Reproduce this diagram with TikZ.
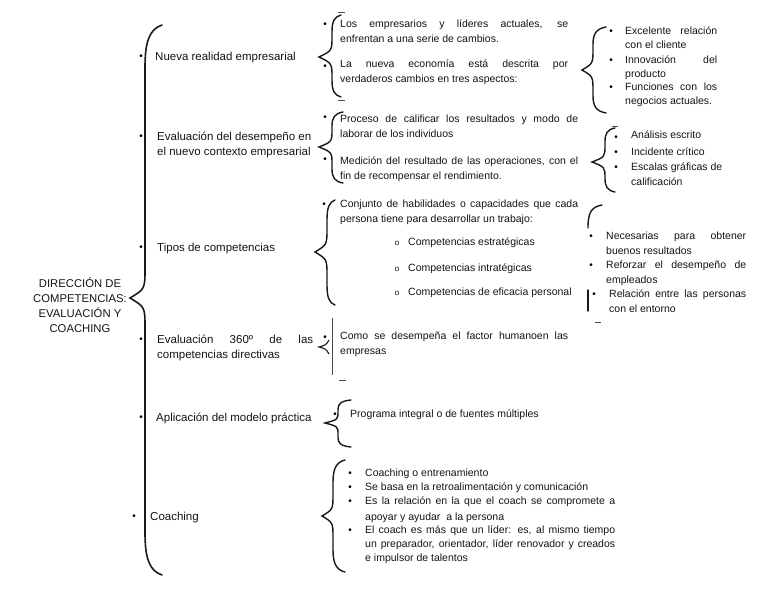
\documentclass[tikz,border=0pt]{standalone}
\usepackage{fontspec}
\setmainfont{Liberation Sans}
\newcommand{\jline}[2]{\makebox[#1][s]{#2}}
% llave: x extremo, x tramo, x punta, y arriba, y punta, y abajo
\newcommand{\llave}[7][]{%
  \pgfmathsetmacro{\llr}{min(2.5*(#2-#3),0.4*(#6-#5))}%
  \pgfmathsetmacro{\llt}{min(2*(#3-#4),0.5*(#6-#5))}%
  \draw[brazo,#1] (#2,#5) .. controls ({#3+0.25*(#2-#3)},{#5+0.1*\llr}) and (#3,{#5+0.4*\llr}) .. (#3,{#5+\llr})
    -- (#3,{#6-\llt}) .. controls (#3,{#6-0.3*\llt}) .. (#4,#6)
    .. controls (#3,{#6+0.3*\llt}) .. (#3,{#6+\llt})
    -- (#3,{#7-\llr}) .. controls (#3,{#7-0.4*\llr}) and ({#3+0.25*(#2-#3)},{#7-0.1*\llr}) .. (#2,#7);}

\begin{document}
\begin{tikzpicture}[x=1pt,y=-1pt,
    every node/.style={inner sep=0pt,text=black!92},
    titulo/.style={font=\fontsize{11.3}{15}\selectfont,align=center,anchor=north},
    tema/.style={font=\fontsize{11.5}{15}\selectfont,align=left,anchor=north west},
    idea/.style={font=\fontsize{10.5}{15}\selectfont,align=left,anchor=north west},
    punto/.style={font=\fontsize{10}{10}\selectfont,text=black},
    brazo/.style={line width=1.4pt,black!90,line cap=round},
    marca/.style={line width=0.7pt,black!70}]
  \useasboundingbox (0,0) rectangle (768,594);

  % titulo
  \node[titulo] (dir) at (80,277) {DIRECCIÓN DE\\COMPETENCIAS:\\EVALUACIÓN Y\\COACHING};

  % llave principal
  \llave[line width=1.6pt]{162}{145}{130}{25}{298}{575}

  % temas
  \node[punto] (p1) at (141,57) {•};
  \node[tema] (nueva) at (155,51.5) {Nueva realidad empresarial};
  \node[punto] (p2) at (141,137) {•};
  \node[tema] (evdes) at (157,131.5) {Evaluación del desempeño en\\el nuevo contexto empresarial};
  \node[punto] (p3) at (141,248) {•};
  \node[tema] (tipos) at (157,242.5) {Tipos de competencias};
  \node[punto] (p4) at (141,340) {•};
  \node[tema] (ev360) at (157,334.5) {\jline{156pt}{Evaluación 360º de las}\\competencias directivas};
  \node[punto] (p5) at (141,418) {•};
  \node[tema] (aplic) at (156,412.5) {Aplicación del modelo práctica};
  \node[punto] (p6) at (134,517) {•};
  \node[tema] (coach) at (150,511.5) {Coaching};

  % nueva realidad
  \llave{341}{332}{319}{15}{57}{97}
  \draw[marca] (338,12) -- (345,12);
  \draw[marca] (338,100) -- (345,100);
  \node[punto] (pa1) at (325,25) {•};
  \node[idea] (emp) at (340,20) {\jline{228pt}{Los empresarios y líderes actuales, se}\\enfrentan a una serie de cambios.};
  \node[punto] (pa2) at (325,67) {•};
  \node[idea] (eco) at (340,60) {\jline{228pt}{La nueva economía está descrita por}\\verdaderos cambios en tres aspectos:};

  \llave{606}{593}{582}{27}{70}{113}
  \node[punto] (pg1) at (611,32) {•};
  \node[idea,font=\fontsize{10.5}{13.8}\selectfont] (exc) at (625,27) {\jline{92pt}{Excelente relación}\\con el cliente};
  \node[punto] (pg2) at (611,61) {•};
  \node[idea,font=\fontsize{10.5}{13.8}\selectfont] (inn) at (625,56) {\jline{92pt}{Innovación del}\\producto};
  \node[punto] (pg3) at (611,88) {•};
  \node[idea,font=\fontsize{10.5}{13.8}\selectfont] (fun) at (625,83) {\jline{92pt}{Funciones con los}\\negocios actuales.};

  % evaluacion del desempeno
  \llave{343}{332}{319}{112}{147}{183}
  \node[punto] (pb1) at (325,118) {•};
  \node[idea] (pro) at (340,115) {\jline{238pt}{Proceso de calificar los resultados y modo de}\\laborar de los individuos};
  \node[punto] (pb2) at (325,160) {•};
  \node[idea] (med) at (340,157) {\jline{238pt}{Medición del resultado de las operaciones, con el}\\fin de recompensar el rendimiento.};

  \llave{615}{605}{592}{128}{162}{192}
  \draw[marca] (612,126) -- (618,126);
  \node[punto] (ph1) at (616,138) {•};
  \node[idea] (ana) at (631,131) {Análisis escrito};
  \node[punto] (ph2) at (616,153) {•};
  \node[idea] (inc) at (631,148) {Incidente crítico};
  \node[punto] (ph3) at (616,168) {•};
  \node[idea] (esc) at (631,163) {Escalas gráficas de\\calificación};

  % tipos de competencias
  \llave{335}{327}{315}{200}{252}{305}
  \node[punto] (pc1) at (324,205) {•};
  \node[idea] (con) at (340,200) {\jline{238pt}{Conjunto de habilidades o capacidades que cada}\\persona tiene para desarrollar un trabajo:};
  \node[punto,font=\fontsize{8}{8}\selectfont] (o1) at (397,243) {o};
  \node[idea] (est) at (408,238) {Competencias estratégicas};
  \node[punto,font=\fontsize{8}{8}\selectfont] (o2) at (397,269) {o};
  \node[idea] (intr) at (408,264) {Competencias intratégicas};
  \node[punto,font=\fontsize{8}{8}\selectfont] (o3) at (397,293) {o};
  \node[idea] (efi) at (408,288) {Competencias de eficacia personal};

  \draw[brazo] (602,205) .. controls (591,207) and (588,213) .. (588,228);
  \draw[brazo] (588,290) -- (588,311);
  \draw[marca] (595,322) -- (601,322);
  \node[punto] (pi1) at (591,237) {•};
  \node[idea,font=\fontsize{10.5}{14.3}\selectfont] (nec) at (606,232) {\jline{140pt}{Necesarias para obtener}\\buenos resultados};
  \node[punto] (pi2) at (591,266) {•};
  \node[idea,font=\fontsize{10.5}{14.3}\selectfont] (ref) at (606,261) {\jline{140pt}{Reforzar el desempeño de}\\empleados};
  \node[punto] (pi3) at (594,295) {•};
  \node[idea] (rel) at (609,290) {\jline{137pt}{Relación entre las personas}\\con el entorno};

  % evaluacion 360
  \draw[line width=0.5pt,black!70] (332,318) -- (332,375);
  \draw[line width=1.1pt,black!90] (329,340) .. controls (326,345) .. (319,347) .. controls (326,349) .. (329,354);
  \draw[marca] (339,380) -- (346,380);
  \node[punto] (pd1) at (325,338) {•};
  \node[idea] (com) at (340,332) {\jline{228pt}{Como se desempeña el factor humanoen las}\\empresas};

  % aplicacion
  \llave{351}{338}{325}{400}{423}{447}
  \node[punto] (pe1) at (335,415) {•};
  \node[idea] (prog) at (350,410) {Programa integral o de fuentes múltiples};

  % coaching
  \llave{345}{333}{322}{460}{516}{572}
  \node[punto] (pf1) at (350,474) {•};
  \node[idea] (ent) at (365,469) {Coaching o entrenamiento};
  \node[punto] (pf2) at (350,488) {•};
  \node[idea] (ret) at (365,483) {Se basa en la retroalimentación y comunicación};
  \node[punto] (pf3) at (350,502) {•};
  \node[idea,font=\fontsize{10.5}{16}\selectfont] (rela) at (365,497) {\jline{250pt}{Es la relación en la que el coach se compromete a}\\apoyar y ayudar\ \ a la persona};
  \node[punto] (pf4) at (350,531) {•};
  \node[idea,font=\fontsize{10.5}{14}\selectfont] (lid) at (365,526) {\jline{250pt}{El coach es más que un líder: es, al mismo tiempo}\\\jline{250pt}{un preparador, orientador, líder renovador y creados}\\e impulsor de talentos};
\end{tikzpicture}
\end{document}
